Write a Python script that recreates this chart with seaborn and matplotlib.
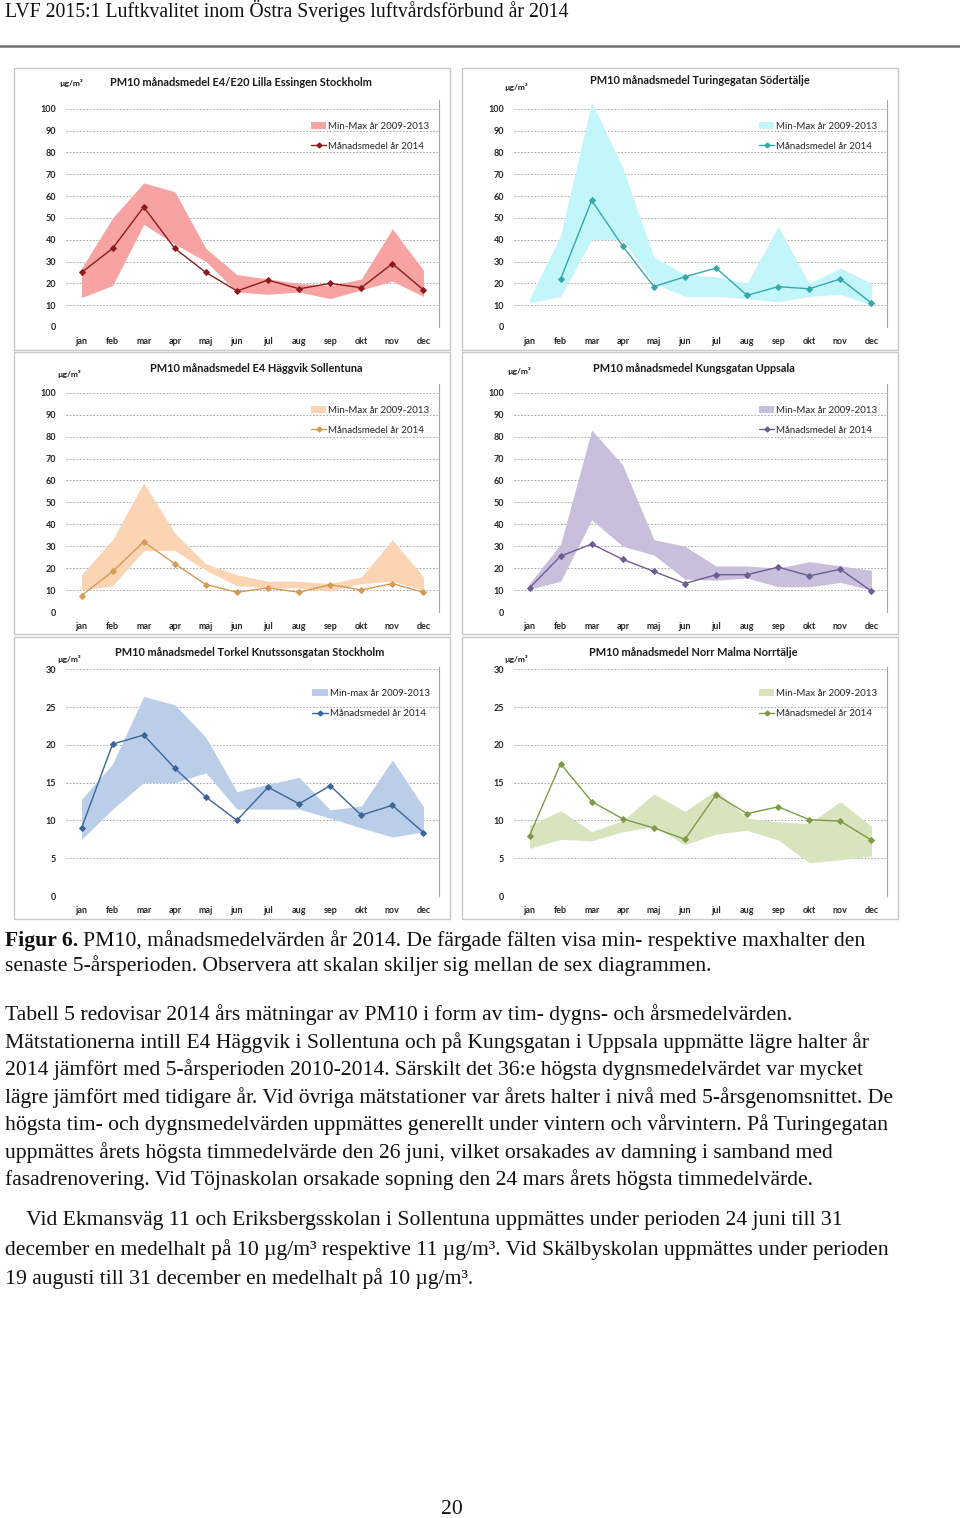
import numpy as np
import matplotlib
matplotlib.use("Agg")
import matplotlib.pyplot as plt
import seaborn as sns
from matplotlib.patches import Patch, Rectangle
from matplotlib.lines import Line2D

sns.set_style("white")
plt.rcParams["font.family"] = ["Lato", "DejaVu Sans"]

# --- data ---
months = ["jan", "feb", "mar", "apr", "maj", "jun", "jul", "aug", "sep", "okt", "nov", "dec"]

ess_max = [27, 50, 66, 62, 36, 24, 22, 20, 19, 22, 45, 26]
ess_min = [13.5, 19, 47, 38, 30, 16, 15, 16, 13, 17, 21, 14]
ess_2014 = [25, 36, 55, 36, 25, 16.5, 21.5, 17.5, 20, 18, 29, 17]

tur_max = [13, 42, 103, 73, 32, 24, 23, 20, 46, 20, 27, 20]
tur_min = [11, 14, 40, 40, 20, 14, 14, 13, 11.5, 14, 15, 10]
tur_2014 = [np.nan, 22, 58, 37, 18.5, 23, 27, 14.5, 18.5, 17.5, 22, 11]

hag_max = [17, 33, 59, 36, 22, 17, 14, 14, 13, 16, 33, 16]
hag_min = [10, 12, 28, 28, 19, 12, 11, 11, 9.5, 13, 14, 10]
hag_2014 = [7.5, 18.5, 32, 22, 12.5, 9, 11, 9, 12.5, 10, 13, 9]

upp_max = [13, 31, 83, 67, 33, 30, 21, 21, 20, 23, 21, 19]
upp_min = [10.5, 14, 42, 30, 26, 15, 14.5, 15.5, 11.5, 11.5, 13.5, 10]
upp_2014 = [11, 25.5, 31, 24, 18.5, 13, 17, 17, 20.5, 16.5, 19.5, 9.5]

tor_max = [12.8, 17.5, 26.4, 25.3, 21, 13.8, 14.8, 15.7, 11.4, 11.9, 18, 11.8]
tor_min = [7.5, 11.5, 15, 15, 16.3, 11.5, 11.5, 11.5, 10.3, 9, 7.8, 8.5]
tor_2014 = [9, 20.1, 21.3, 16.9, 13.1, 10, 14.4, 12.2, 14.6, 10.7, 12, 8.4]

nor_max = [9.3, 11.3, 8.5, 10, 13.5, 11.2, 14, 10.3, 9.8, 9.6, 12.5, 9.2]
nor_min = [6.3, 7.5, 7.3, 8.5, 9.2, 6.8, 8.2, 8.7, 7.4, 4.4, 4.8, 5.3]
nor_2014 = [8, 17.5, 12.5, 10.2, 9, 7.5, 13.4, 10.9, 11.8, 10.1, 9.9, 7.4]

W, H = 960, 1518

# (title, y-range top, min, max, mean, fill colour, line colour, legend band label)
charts = [
    ("PM10 månadsmedel E4/E20 Lilla Essingen Stockholm", 100, ess_min, ess_max, ess_2014,
     "#F8A3A3", "#8C1C1C", "Min-Max år 2009-2013"),
    ("PM10 månadsmedel Turingegatan Södertälje", 100, tur_min, tur_max, tur_2014,
     "#C2F6FA", "#35A8AC", "Min-Max år 2009-2013"),
    ("PM10 månadsmedel E4 Häggvik Sollentuna", 100, hag_min, hag_max, hag_2014,
     "#FBD4B4", "#D69A55", "Min-Max år 2009-2013"),
    ("PM10 månadsmedel Kungsgatan Uppsala", 100, upp_min, upp_max, upp_2014,
     "#C9BEDC", "#6E5C92", "Min-Max år 2009-2013"),
    ("PM10 månadsmedel Torkel Knutssonsgatan Stockholm", 30, tor_min, tor_max, tor_2014,
     "#BACEEA", "#3B6699", "Min-max år 2009-2013"),
    ("PM10 månadsmedel Norr Malma Norrtälje", 30, nor_min, nor_max, nor_2014,
     "#D7E4BD", "#7D9B46", "Min-Max år 2009-2013"),
]

# pixel layout of the six panels
panel_x = [14, 462]
panel_y = [68, 352, 637]
panel_w, panel_h = 436, 282
zero_y = [327, 612, 896]
top_y = [100, 384, 667]
title_pos = [(241, 83), (700, 81), (256, 368), (694, 368), (250, 652), (693, 652)]
unit_pos = [(71, 83), (516, 87), (69, 374), (519, 371), (69, 659), (516, 659)]

fig = plt.figure(figsize=(W / 100, H / 100), dpi=100)


def fx(px):
    return px / W


def fy(py):
    return 1 - py / H


x = np.arange(12)
for i, (title, ymax, lo, hi, mean, fcol, lcol, blabel) in enumerate(charts):
    r, c = divmod(i, 2)
    x0, y0 = panel_x[c], panel_y[r]
    fig.patches.append(Rectangle((fx(x0), fy(y0 + panel_h)), panel_w / W, panel_h / H,
                                 transform=fig.transFigure, fill=False,
                                 edgecolor="#C8C8C8", lw=1.0))
    left = x0 + 52
    ax = fig.add_axes([fx(left), fy(zero_y[r]), 373 / W, (zero_y[r] - top_y[r]) / H])

    ax.fill_between(x, lo, hi, color=fcol, lw=0, zorder=2)
    sns.lineplot(x=x, y=mean, ax=ax, color=lcol, lw=1.0, marker="D",
                 markersize=3, markeredgecolor=lcol, zorder=3)

    step = 10 if ymax == 100 else 5
    ticks = np.arange(0, ymax + 1, step)
    ax.set_ylim(0, 104 if ymax == 100 else 30.3)
    ax.set_xlim(-0.5, 11.5)
    ax.set_yticks(ticks)
    ax.set_yticklabels([str(t) for t in ticks], fontsize=6.5, fontweight="bold")
    ax.set_yticks(np.arange(0, ymax + 0.1, step / 5), minor=True)
    ax.set_xticks(x)
    ax.set_xticklabels(months, fontsize=6.5, fontweight="bold")
    ax.set_xticks(np.arange(0.5, 11, 1), minor=True)
    for t in ticks[1:]:
        ax.axhline(t, color="#9A9A9A", lw=0.6, ls=(0, (2, 2)), zorder=1)
    ax.tick_params(axis="y", which="major", length=0, pad=7)
    ax.tick_params(axis="y", which="minor", length=2, color="#C0C0C0", direction="out")
    ax.tick_params(axis="x", which="major", length=0, pad=7)
    ax.tick_params(axis="x", which="minor", length=3, color="#C0C0C0", direction="in")
    for s in ["top", "left", "bottom"]:
        ax.spines[s].set_visible(False)
    ax.spines["right"].set_color("#9AA8B0")
    ax.spines["right"].set_linewidth(0.8)
    ax.set_xlabel("")
    ax.set_ylabel("")

    handles = [Patch(facecolor=fcol, edgecolor="none", label=blabel),
               Line2D([0], [0], color=lcol, lw=1.0, marker="D", markersize=2.5,
                      label="Månadsmedel år 2014")]
    ax.legend(handles=handles, loc="upper right", bbox_to_anchor=(0.985, 0.92),
              frameon=False, fontsize=7, handlelength=1.6, handletextpad=0.2,
              labelspacing=1.1, borderaxespad=0)

    tx, ty = title_pos[i]
    fig.text(fx(tx), fy(ty), title, ha="center", va="center", fontsize=7.9,
             fontweight="bold", color="#1A1A1A")
    ux, uy = unit_pos[i]
    fig.text(fx(ux), fy(uy), "µg/m³", ha="center", va="center", fontsize=6,
             fontweight="bold", color="#1A1A1A")

# --- page text ---
serif = ["Liberation Serif", "DejaVu Serif"]
fs = 15.6
fig.text(fx(5), fy(11), "LVF 2015:1 Luftkvalitet inom Östra Sveriges luftvårdsförbund år 2014",
         ha="left", va="center", fontsize=14.2, family=serif, color="#111111")
fig.add_artist(Line2D([0, 1], [fy(46), fy(46)], transform=fig.transFigure,
                      color="#707070", lw=1.8))

caption = [
    "PM10, månadsmedelvärden år 2014. De färgade fälten visa min- respektive maxhalter den",
    "senaste 5-årsperioden. Observera att skalan skiljer sig mellan de sex diagrammen.",
]
body1 = [
    "Tabell 5 redovisar 2014 års mätningar av PM10 i form av tim- dygns- och årsmedelvärden.",
    "Mätstationerna intill E4 Häggvik i Sollentuna och på Kungsgatan i Uppsala uppmätte lägre halter år",
    "2014 jämfört med 5-årsperioden 2010-2014. Särskilt det 36:e högsta dygnsmedelvärdet var mycket",
    "lägre jämfört med tidigare år. Vid övriga mätstationer var årets halter i nivå med 5-årsgenomsnittet. De",
    "högsta tim- och dygnsmedelvärden uppmättes generellt under vintern och vårvintern. På Turingegatan",
    "uppmättes årets högsta timmedelvärde den 26 juni, vilket orsakades av damning i samband med",
    "fasadrenovering. Vid Töjnaskolan orsakade sopning den 24 mars årets högsta timmedelvärde.",
]
body2 = [
    "    Vid Ekmansväg 11 och Eriksbergsskolan i Sollentuna uppmättes under perioden 24 juni till 31",
    "december en medelhalt på 10 µg/m³ respektive 11 µg/m³. Vid Skälbyskolan uppmättes under perioden",
    "19 augusti till 31 december en medelhalt på 10 µg/m³.",
]

fig.canvas.draw()
renderer = fig.canvas.get_renderer()
lab = fig.text(fx(5), fy(941), "Figur 6.", ha="left", va="center", fontsize=fs,
               family=serif, fontweight="bold", color="#111111")
bb = lab.get_window_extent(renderer=renderer)
fig.text((bb.x1 + 5) / W, fy(941), caption[0], ha="left", va="center", fontsize=fs,
         family=serif, color="#111111")
fig.text(fx(5), fy(966), caption[1], ha="left", va="center", fontsize=fs,
         family=serif, color="#111111")

for k, line in enumerate(body1):
    fig.text(fx(5), fy(1015 + k * 27.5), line, ha="left", va="center", fontsize=fs,
             family=serif, color="#111111")
for k, line in enumerate(body2):
    fig.text(fx(5), fy(1220 + k * 29.3), line, ha="left", va="center", fontsize=fs,
             family=serif, color="#111111")

fig.text(fx(452), fy(1509), "20", ha="center", va="center", fontsize=fs,
         family=serif, color="#111111")

fig.savefig("out.png", dpi=100, facecolor="white")
